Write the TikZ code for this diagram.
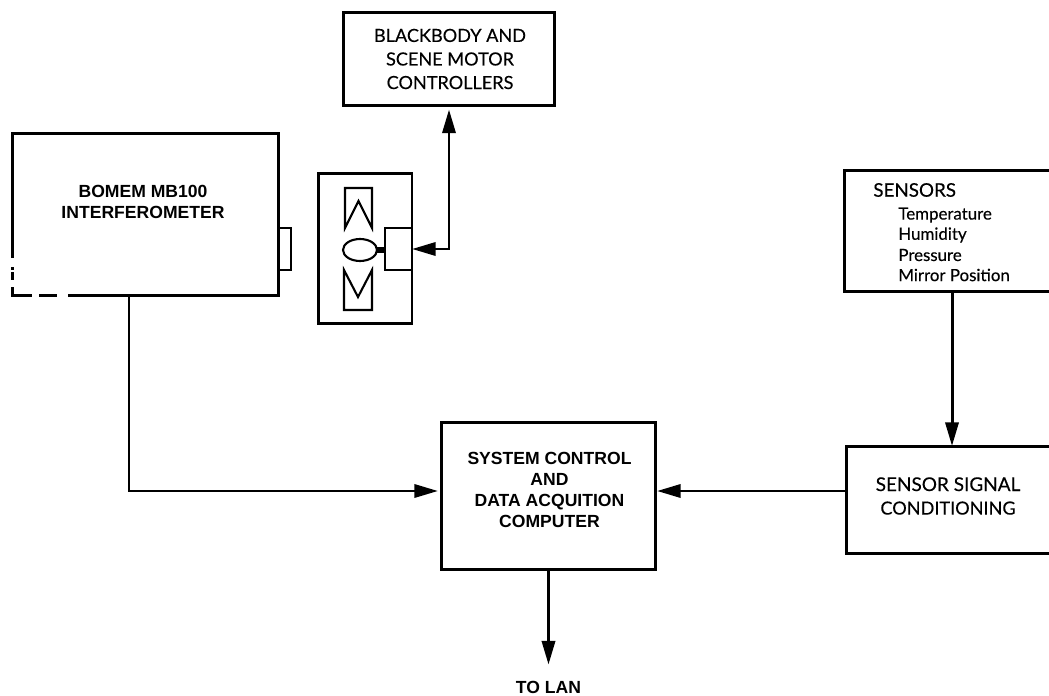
\documentclass[tikz,border=0pt]{standalone}
\usepackage{fontspec}
\setmainfont{Lato}[FakeBold=0.25]
\newfontfamily\heavyfont{Liberation Sans}[BoldFont={Liberation Sans Bold}]
\usetikzlibrary{arrows.meta}

\tikzset{
    blockbox/.style={draw, line width=1.7pt, inner sep=0pt, outer sep=0pt},
    thinbox/.style={draw, line width=1.2pt, inner sep=0pt, outer sep=0pt},
    lighttext/.style={inner sep=0pt, align=center, font=\fontsize{10.3}{13.4}\selectfont},
    heavytext/.style={inner sep=0pt, align=center, font=\heavyfont\bfseries\fontsize{10}{11.9}\selectfont},
    flowline/.style={line width=1.7pt},
    flowtip/.style={-{Stealth[length=13.5pt, width=7.5pt, inset=0pt]}}
}

\begin{document}
\begin{tikzpicture}[x=0.02cm, y=-0.02cm]
    \useasboundingbox (0,0) rectangle (1049,696);
    \clip (0,0) rectangle (1049,696);

    % Interferometer
    \node[blockbox, minimum width=5.34cm, minimum height=3.26cm] (bomem) at (145.5,214.5) {};
    \fill[white] (5,258) rectangle (18,267);
    \fill[white] (5,270) rectangle (18,272);
    \fill[white] (5,280) rectangle (18,287);
    \fill[white] (32,290) rectangle (39,301);
    \fill[white] (57,290) rectangle (68,301);
    \node[heavytext] (bomemlabel) at (143,202) {BOMEM MB100\\INTERFEROMETER};
    \node[thinbox, minimum width=0.24cm, minimum height=0.84cm] (port) at (285,249) {};

    % Blackbody and scene unit
    \node[blockbox, minimum width=1.88cm, minimum height=3.02cm] (scene) at (365,248.5) {};
    \node[thinbox, fill=white, minimum width=0.54cm, minimum height=0.84cm] (motor) at (398.5,249) {};
    \draw[line width=1.2pt, line join=miter] (345,188) -- (372,188) -- (372,228) -- (358.5,201) -- (345,228) -- cycle;
    \draw[line width=1.2pt, line join=miter] (344,310) -- (372,310) -- (372,270) -- (358,297) -- (344,270) -- cycle;
    \draw[line width=1.2pt] (360,250) ellipse [x radius=17, y radius=11];
    \coordinate (lampneck) at (376,250);
    \draw[line width=3pt] (lampneck) -- (lampneck -| motor.west);

    % Controllers
    \node[blockbox, minimum width=4.24cm, minimum height=1.88cm] (blackbody) at (449,59) {};
    \node[lighttext] (blackbodylabel) at (450,59) {BLACKBODY AND\\SCENE MOTOR\\CONTROLLERS};
    \draw[flowline, {Stealth[length=13.5pt, width=7.5pt, inset=0pt]}-{Stealth[length=13.5pt, width=7.5pt, inset=0pt]}, shorten >=2pt]
        (motor.east) -| (blackbody.south);

    % Sensors
    \node[blockbox, minimum width=4.42cm, minimum height=2.44cm] (sensors) at (954.5,231) {};
    \node[lighttext, anchor=west] (sensorstitle) at (873,190) {\fontsize{10.7}{12}\selectfont SENSORS};
    \node[lighttext, anchor=west] (temperature) at (898,215) {\fontsize{9.6}{12}\selectfont Temperature};
    \node[lighttext, anchor=west] (humidity) at (898,235) {\fontsize{9.6}{12}\selectfont Humidity};
    \node[lighttext, anchor=west] (pressure) at (898,255) {\fontsize{9.6}{12}\selectfont Pressure};
    \node[lighttext, anchor=west] (mirror) at (898,275) {\fontsize{9.6}{12}\selectfont Mirror Position};

    % Signal conditioning
    \node[blockbox, minimum width=4.38cm, minimum height=2.16cm] (signal) at (955.5,500) {};
    \node[lighttext] (signallabel) at (948,496) {\fontsize{10.8}{13}\selectfont SENSOR SIGNAL\\CONDITIONING};
    \coordinate (sensorsdrop) at (952,292);
    \draw[flowline, flowtip] (sensorsdrop) -- (sensorsdrop |- signal.north);

    % Computer
    \node[blockbox, minimum width=4.30cm, minimum height=2.96cm] (system) at (548.5,496) {};
    \node[heavytext] (systemlabel) at (549.5,490) {SYSTEM CONTROL\\AND\\DATA ACQUITION\\COMPUTER};
    \node[heavytext] (tolan) at (548.5,687) {TO LAN};
    \coordinate (systemright) at (657,491);
    \coordinate (systemleft) at (438,491);
    \coordinate (bomemdrop) at (129,296);
    \draw[flowline, flowtip] (signal.west |- systemright) -- (systemright);
    \draw[flowline, flowtip] (bomemdrop) |- (systemleft);
    \draw[flowline, flowtip, shorten >=9pt] (system.south) -- (tolan.north);
\end{tikzpicture}
\end{document}
